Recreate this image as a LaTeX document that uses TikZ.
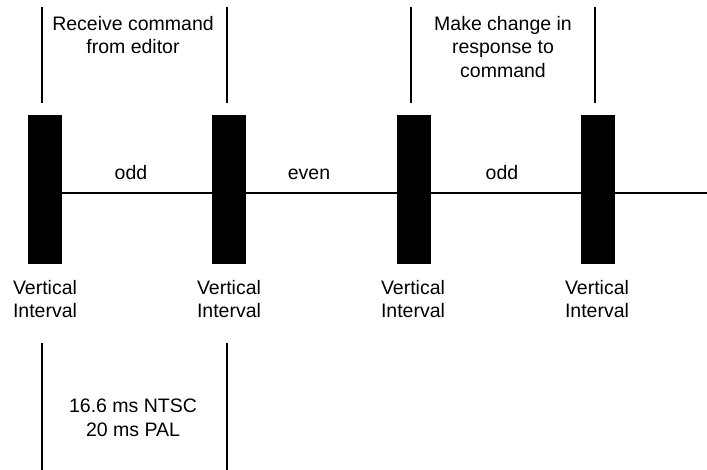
\documentclass[tikz,border=0pt]{standalone}
\usepackage{fontspec}
\setmainfont{Liberation Sans}
\begin{document}
\begin{tikzpicture}[x=1pt,y=-1pt,
  bar/.style={rectangle,fill=black,draw=none,minimum width=34pt,minimum height=149pt,inner sep=0pt},
  lbl/.style={align=center,inner sep=0pt,font=\fontsize{19.5}{23.5}\selectfont},
  ln/.style={line width=1.6pt}]
\useasboundingbox (0,0) rectangle (707,470);
% horizontal time line
\coordinate (he) at (707,193);
\coordinate (hs) at (62,193);
\draw[ln] (hs) -- (he);
% bars
\node[bar] (b1) at (44.5,189.5) {};
\node[bar] (b2) at (229,189.5) {};
\node[bar] (b3) at (413.5,189.5) {};
\node[bar] (b4) at (598,189.5) {};
% top brackets
\coordinate (t1a) at (42,7);   \coordinate (t1b) at (42,103);
\coordinate (t2a) at (227,7);  \coordinate (t2b) at (227,103);
\coordinate (t3a) at (411,7);  \coordinate (t3b) at (411,103);
\coordinate (t4a) at (595,7);  \coordinate (t4b) at (595,103);
\draw[ln] (t1a) -- (t1b);
\draw[ln] (t2a) -- (t2b);
\draw[ln] (t3a) -- (t3b);
\draw[ln] (t4a) -- (t4b);
% bottom bracket
\coordinate (u1a) at (42,343);  \coordinate (u1b) at (42,470);
\coordinate (u2a) at (227,343); \coordinate (u2b) at (227,470);
\draw[ln] (u1a) -- (u1b);
\draw[ln] (u2a) -- (u2b);
% texts
\node[lbl] (rc) at (133,35) {Receive command\\from editor};
\node[lbl] (mc) at (503,47) {Make change in\\response to\\command};
\node[lbl,anchor=base] (o1) at (131,180) {odd};
\node[lbl,anchor=base] (ev) at (309,180) {even};
\node[lbl,anchor=base] (o2) at (502,180) {odd};
\node[lbl] (v1) at (45,299) {Vertical\\Interval};
\node[lbl] (v2) at (229,299) {Vertical\\Interval};
\node[lbl] (v3) at (413,299) {Vertical\\Interval};
\node[lbl] (v4) at (597,299) {Vertical\\Interval};
\node[lbl] (tm) at (133,418) {16.6 ms NTSC\\20 ms PAL};
\end{tikzpicture}
\end{document}
